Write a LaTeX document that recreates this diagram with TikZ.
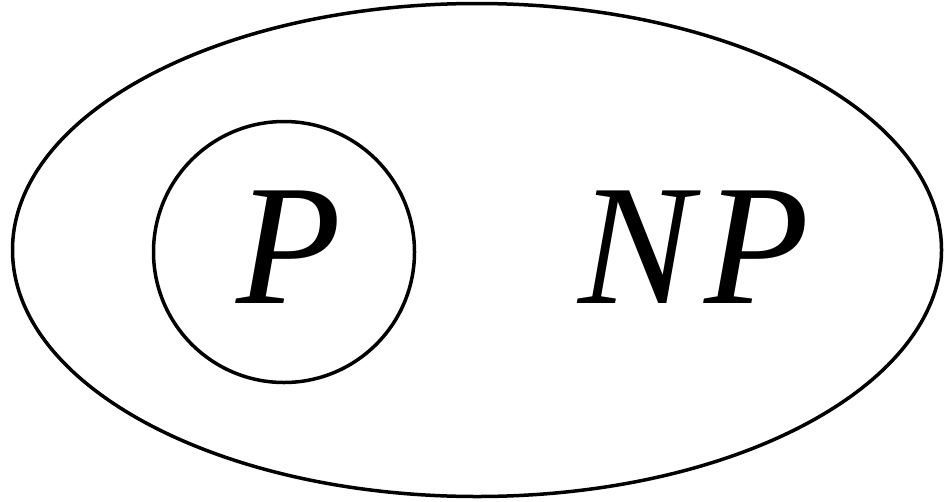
\documentclass[tikz,border=0pt]{standalone}
\usepackage{fontspec}
\setmainfont{Liberation Serif}
\usetikzlibrary{shapes.geometric}
\begin{document}
\begin{tikzpicture}[x=1pt,y=1pt,
  setline/.style={draw=black,line width=3.5pt},
  biglabel/.style={font=\fontsize{172}{172}\selectfont\itshape,inner sep=0pt}]
\useasboundingbox (0,0) rectangle (944,-501);
\node[setline,ellipse,minimum width=929pt,minimum height=493pt,inner sep=0pt] (np) at (477,-250) {};
\node[setline,circle,minimum size=261pt,inner sep=0pt] (p) at (284,-252) {};
\node[biglabel] (plabel) at (289,-247) {P};
\node[biglabel] (nplabel) at (694,-247) {N\kern12pt P};
\end{tikzpicture}
\end{document}
